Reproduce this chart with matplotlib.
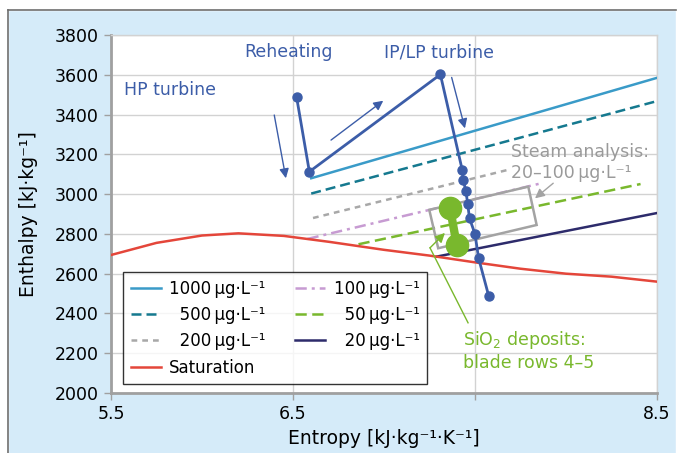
import matplotlib
matplotlib.use("Agg")
import matplotlib.pyplot as plt
from matplotlib.patches import Polygon, Rectangle
from matplotlib.lines import Line2D

# saturation line
sat_s = [5.5, 5.75, 6.0, 6.2, 6.45, 6.7, 7.0, 7.25, 7.5, 7.75, 8.0, 8.25, 8.5]
sat_h = [2694, 2755, 2792, 2803, 2790, 2760, 2720, 2691, 2657, 2625, 2600, 2585, 2560]

# silica solubility lines
conc_labels = ["1000\u2009µg·L⁻¹", "\u2007500\u2009µg·L⁻¹", "\u2007200\u2009µg·L⁻¹",
               "100\u2009µg·L⁻¹", "\u200750\u2009µg·L⁻¹", "\u200720\u2009µg·L⁻¹"]
conc_s = [(6.60, 8.50), (6.60, 8.50), (6.61, 7.68), (6.58, 7.87), (6.86, 8.41), (7.29, 8.50)]
conc_h = [(3080, 3585), (3003, 3468), (2880, 3122), (2775, 3056), (2748, 3051), (2686, 2905)]
conc_colors = ["#3a9bc8", "#15798f", "#a8a8a8", "#c79bd2", "#79b82d", "#2d2b6b"]
conc_dashes = [None, (4, 2), (2.3, 2), (4.5, 2, 1.2, 2), (4.5, 2.2), None]

# turbine expansion line (HP -> reheat -> IP/LP)
turb_s = [6.52, 6.59, 7.31, 7.43, 7.435, 7.45, 7.46, 7.47, 7.50, 7.52, 7.575]
turb_h = [3487, 3113, 3602, 3122, 3071, 3018, 2951, 2879, 2800, 2678, 2490]

# SiO2 deposits
dep_s = [7.363, 7.40]
dep_h = [2929, 2745]

# steam analysis box corners
box_s = [7.249, 7.793, 7.839, 7.298]
box_h = [2921, 3038, 2845, 2728]

xticks = [5.5, 6.5, 7.5, 8.5]
xticklabels = ["5.5", "6.5", "", "8.5"]
yticks = list(range(2000, 3801, 200))

blue = "#3c5da8"
green = "#79b82d"
grey_txt = "#9a9a9a"
bg = "#d5ebf9"

fig = plt.figure(figsize=(6.79, 4.53), dpi=100, facecolor=bg)
# white margins + frame lines
fig.patches.append(Rectangle((0, 0.978), 1, 0.03, transform=fig.transFigure, color="white", zorder=0))
fig.patches.append(Rectangle((0, 0), 0.0118, 1, transform=fig.transFigure, color="white", zorder=0))
fig.patches.append(Rectangle((0.9956, 0), 0.01, 1, transform=fig.transFigure, color="white", zorder=0))
fig.lines.append(Line2D([0.0118, 0.9956], [0.978, 0.978], transform=fig.transFigure, color="#6e6e6e", lw=1.2))
fig.lines.append(Line2D([0.0118, 0.0118], [0, 0.978], transform=fig.transFigure, color="#6e6e6e", lw=1.2))

ax = fig.add_axes([0.1635, 0.1325, 0.804, 0.790])
ax.set_facecolor("white")

handles = []
for lab, s, h, c, d in zip(conc_labels, conc_s, conc_h, conc_colors, conc_dashes):
    ln, = ax.plot(s, h, color=c, lw=1.8, label=lab, zorder=3)
    if d is not None:
        ln.set_dashes(d)
    handles.append(ln)
sat_ln, = ax.plot(sat_s, sat_h, color="#e4463a", lw=1.8, label="Saturation", zorder=3)

ax.plot(turb_s, turb_h, color=blue, lw=2.0, marker="o", ms=6.5, zorder=5)
ax.plot(dep_s, dep_h, color=green, lw=6, marker="o", ms=16, zorder=6)
ax.add_patch(Polygon(list(zip(box_s, box_h)), closed=True, fill=False,
                     edgecolor="#a3a3a3", lw=1.8, zorder=4))

# arrows
arr = dict(arrowstyle="-|>", color=blue, lw=1.0, mutation_scale=14, shrinkA=0, shrinkB=0)
ax.annotate("", xy=(6.461, 3080), xytext=(6.397, 3398), arrowprops=arr)
ax.annotate("", xy=(6.996, 3470), xytext=(6.709, 3272), arrowprops=arr)
ax.annotate("", xy=(7.445, 3331), xytext=(7.372, 3587), arrowprops=arr)
ax.annotate("", xy=(7.83, 2979), xytext=(7.93, 3055),
            arrowprops=dict(arrowstyle="-|>", color="#a3a3a3", lw=1.0, mutation_scale=14,
                            shrinkA=0, shrinkB=0))
ax.plot([7.462, 7.253], [2353, 2730], color=green, lw=1.0, zorder=7)
ax.annotate("", xy=(7.335, 2805), xytext=(7.253, 2730),
            arrowprops=dict(arrowstyle="-|>", color=green, lw=1.0, mutation_scale=14,
                            shrinkA=0, shrinkB=0), zorder=7)

# texts
fs = 12.5
ax.text(5.57, 3524, "HP turbine", color=blue, fontsize=fs, va="center")
ax.text(6.478, 3715, "Reheating", color=blue, fontsize=fs, va="center", ha="center")
ax.text(7.30, 3715, "IP/LP turbine", color=blue, fontsize=fs, va="center", ha="center")
ax.text(7.696, 3214, "Steam analysis:", color=grey_txt, fontsize=fs, va="center")
ax.text(7.696, 3107, "20–100\u2009µg·L⁻¹", color=grey_txt, fontsize=fs, va="center")
ax.text(7.436, 2267, "SiO$_2$ deposits:", color=green, fontsize=fs, va="center")
ax.text(7.436, 2152, "blade rows 4–5", color=green, fontsize=fs, va="center")

ax.set_xlim(5.5, 8.5)
ax.set_ylim(2000, 3800)
ax.set_xticks(xticks)
ax.set_xticklabels(xticklabels)
ax.set_yticks(yticks)
ax.grid(True, color="#d2d2d2", lw=1.0, zorder=0)
ax.set_axisbelow(True)
for side in ["left", "bottom"]:
    ax.spines[side].set_color("#a0a0a0")
    ax.spines[side].set_linewidth(2)
for side in ["top", "right"]:
    ax.spines[side].set_color("#d2d2d2")
    ax.spines[side].set_linewidth(1)
ax.tick_params(length=5, width=1, color="#a0a0a0", labelsize=fs, pad=4)

ax.set_xlabel("Entropy [kJ·kg⁻¹·K⁻¹]", fontsize=13.5, labelpad=4)
ax.set_ylabel("Enthalpy [kJ·kg⁻¹]", fontsize=13.5, labelpad=12)

leg_handles = handles[:3] + [sat_ln] + handles[3:]
leg = ax.legend(handles=leg_handles, ncol=2, loc="lower left", bbox_to_anchor=(0.022, 0.025),
                borderaxespad=0, fontsize=12, frameon=True, fancybox=False,
                handlelength=1.8, handletextpad=0.5, columnspacing=1.8, labelspacing=0.5,
                borderpad=0.45)
leg.get_frame().set_edgecolor("black")
leg.get_frame().set_linewidth(1.0)
leg.set_zorder(8)

fig.savefig("out.png", dpi=100, facecolor=bg)
